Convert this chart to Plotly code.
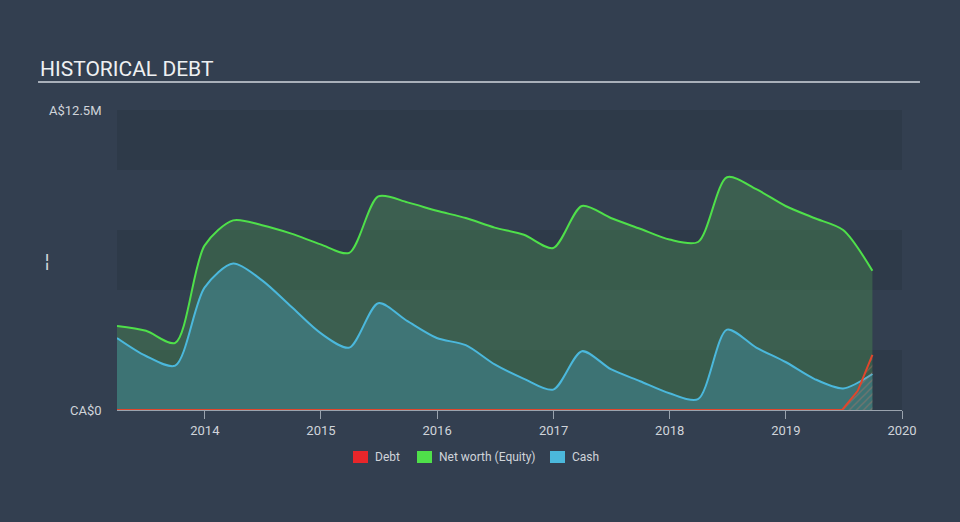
import plotly.graph_objects as go

dates = ["2013-03-31", "2013-06-30", "2013-09-30", "2013-12-31",
         "2014-03-31", "2014-06-30", "2014-09-30", "2014-12-31",
         "2015-03-31", "2015-06-30", "2015-09-30", "2015-12-31",
         "2016-03-31", "2016-06-30", "2016-09-30", "2016-12-31",
         "2017-03-31", "2017-06-30", "2017-09-30", "2017-12-31",
         "2018-03-31", "2018-06-30", "2018-09-30", "2018-12-31",
         "2019-03-31", "2019-06-30", "2019-09-30"]

net_worth = [3.5, 3.3, 2.8, 6.85, 7.9, 7.7, 7.35, 6.9, 6.55, 8.9, 8.65, 8.3,
             8.0, 7.6, 7.3, 6.75, 8.5, 8.0, 7.55, 7.1, 7.0, 9.7, 9.2, 8.5,
             8.0, 7.5, 5.8]

cash = [3.0, 2.25, 1.85, 5.1, 6.1, 5.4, 4.3, 3.2, 2.6, 4.45, 3.7, 3.0,
        2.7, 1.9, 1.3, 0.85, 2.45, 1.7, 1.2, 0.7, 0.45, 3.35, 2.6, 2.0,
        1.3, 0.9, 1.5]

debt_dates = ["2013-03-31", "2019-06-27", "2019-08-15", "2019-09-30"]
debt = [0.0, 0.0, 0.8, 2.3]

year_ticks = ["2014-01-01", "2015-01-01", "2016-01-01", "2017-01-01",
              "2018-01-01", "2019-01-01", "2020-01-01"]
year_labels = ["2014", "2015", "2016", "2017", "2018", "2019", "2020"]

legend_names = ["Debt", "Net worth (Equity)", "Cash"]
legend_colors = ["#e8262a", "#4fe04a", "#4bb8dc"]

BG = "#333f50"
BAND = "#2e3a49"
TXT = "#d0d4da"

fig = go.Figure()

fig.add_trace(go.Scatter(
    x=dates, y=[v * 1e6 for v in net_worth], name="Net worth (Equity)",
    mode="lines", line=dict(color="#4fe04a", width=2, shape="spline", smoothing=0.8),
    fill="tozeroy", fillcolor="rgba(70,135,80,0.45)", showlegend=False,
))
fig.add_trace(go.Scatter(
    x=dates, y=[v * 1e6 for v in cash], name="Cash",
    mode="lines", line=dict(color="#4bb8dc", width=2, shape="spline", smoothing=0.8),
    fill="tozeroy", fillcolor="rgba(65,135,150,0.55)", showlegend=False,
))
fig.add_trace(go.Scatter(
    x=debt_dates, y=[v * 1e6 for v in debt], name="Debt",
    mode="lines", line=dict(color="#e0462c", width=2),
    fill="tozeroy", fillcolor="rgba(0,0,0,0)", showlegend=False,
    fillpattern=dict(shape="/", fgcolor="rgba(220,120,100,0.7)", bgcolor="rgba(0,0,0,0)", size=5, solidity=0.25),
))

shapes = []
for lo, hi in [(0, 2.5), (5, 7.5), (10, 12.5)]:
    shapes.append(dict(type="rect", xref="paper", yref="y", x0=0, x1=1,
                       y0=lo * 1e6, y1=hi * 1e6, fillcolor=BAND, line=dict(width=0), layer="below"))
shapes.append(dict(type="line", xref="paper", yref="paper", x0=-0.1006, x1=1.0229, y0=1.0933, y1=1.0933,
                   line=dict(color="#a9b0ba", width=2)))

annotations = [
    dict(text="HISTORICAL DEBT", xref="paper", yref="paper", x=-0.1006, y=1.1367, xanchor="left", yanchor="middle",
         showarrow=False, font=dict(size=21, color="#eef0f2")),
    dict(text="A$12.5M", xref="paper", yref="y", x=-0.0892, y=12.5e6, xanchor="left", yanchor="middle",
         showarrow=False, font=dict(size=13, color=TXT)),
    dict(text="CA$0", xref="paper", yref="y", x=-0.0166, y=0, xanchor="right", yanchor="middle",
         showarrow=False, font=dict(size=13, color=TXT)),
    dict(text="¦", xref="paper", yref="y", x=-0.089, y=6.25e6, xanchor="center", yanchor="middle",
         showarrow=False, font=dict(size=18, color=TXT)),
]

# custom legend (pixel positions converted to paper coords)
W, L, T, H = 785, 117, 110, 300
def px(x):
    return (x - L) / W
def py(y):
    return 1 - (y - T) / H
legend_sq_x = [353, 417, 550]
for nm, col, x0 in zip(legend_names, legend_colors, legend_sq_x):
    shapes.append(dict(type="rect", xref="paper", yref="paper", x0=px(x0), x1=px(x0 + 15),
                       y0=py(463), y1=py(451), fillcolor=col, line=dict(width=0)))
    annotations.append(dict(text=nm, xref="paper", yref="paper", x=px(x0 + 20), y=py(457),
                            xanchor="left", yanchor="middle", showarrow=False,
                            font=dict(size=12, color=TXT)))

fig.update_layout(
    width=960, height=522,
    paper_bgcolor=BG, plot_bgcolor=BG,
    margin=dict(l=117, r=58, t=110, b=112),
    font=dict(family="Roboto", color=TXT, size=12),
    shapes=shapes,
    showlegend=False,
    xaxis=dict(type="date", range=["2013-03-31", "2020-01-01"], tickvals=year_ticks, ticktext=year_labels,
               showgrid=False, zeroline=False, showline=True, linecolor="#9aa3ae", linewidth=1,
               ticks="outside", ticklen=8, tickcolor="#9aa3ae", tickfont=dict(size=13, color=TXT)),
    yaxis=dict(range=[0, 12.5e6], showgrid=False, zeroline=False, showticklabels=False, fixedrange=True),
    annotations=annotations,
)

fig.write_html("out.html", config={"displayModeBar": False},
               post_script="document.body.style.margin='0';")
